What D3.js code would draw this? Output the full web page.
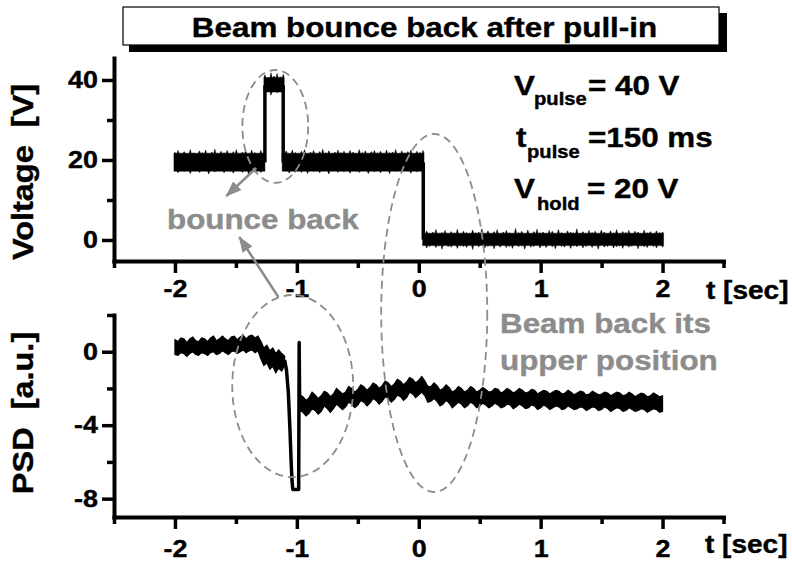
<!DOCTYPE html>
<html>
<head>
<meta charset="utf-8">
<script src="https://cdn.jsdelivr.net/npm/d3@7"></script>
<style>
  html, body { margin: 0; padding: 0; background: #fff; }
  svg { display: block; }
  text { font-family: "Liberation Sans", Arial, sans-serif; font-weight: bold; white-space: pre; }
</style>
</head>
<body>
<svg id="chart" width="792" height="563"></svg>
<script>
// ---------------- data ----------------
// Time axis ticks (s)
const timeMajorTicks = [-2, -1, 0, 1, 2];
const timeMinorTicks = [-2.5, -1.5, -0.5, 0.5, 1.5, 2.5];
// Voltage axis ticks (V)
const voltMajorTicks = [0, 20, 40];
const voltMinorTicks = [10, 30];
// PSD axis ticks (a.u.)
const psdMajorTicks = [-8, -4, 0];
const psdMinorTicks = [-6, -2, 2];

// Applied voltage. Each plateau: time span, solid core [low, high], and the
// noise peaks (low / high) of successive samples across the span.
const holdBeforeSpan = [-2.0, -1.27];
const holdCore = [17.2, 21.7];
const holdBeforeLo = [17.4,16.8,17.6,17.1,17.9,16.6,17.5,17.3,16.9,17.8,17.2,16.5,17.6,17.0,17.7,17.3,16.8,17.9,17.1,16.7,17.5,17.2,16.9,17.8,16.4,17.4,17.0,17.6,16.9,17.3];
const holdBeforeHi = [21.9,22.4,21.5,22.1,21.7,22.6,21.8,21.4,22.3,21.9,22.5,21.6,22.0,22.7,21.5,22.2,21.8,22.4,21.6,22.1,22.6,21.7,22.0,22.3,21.5,22.5,21.9,21.6,22.4,21.8];

const pulseSpan = [-1.262, -1.112];
const pulseCore = [37.0, 40.6];
const pulseLo = [36.6,37.3,36.2,37.0,36.8,37.4,36.5];
const pulseHi = [41.3,40.6,41.8,41.0,41.6,40.8,41.4];

const holdAfterSpan = [-1.112, 0.035];
const holdAfterLo = [17.2,17.8,16.7,17.5,17.0,17.9,16.9,17.4,16.6,17.7,17.1,17.5,16.8,17.3,17.9,16.5,17.6,17.2,16.9,17.8,17.0,17.4,16.7,17.6,17.1,16.9,17.7,17.3,16.6,17.5,17.0,17.8,16.8,17.4,17.2,16.6,17.7,17.1,17.5,16.9,17.3,17.8,16.7,17.4,17.0,17.6,17.2];
const holdAfterHi = [21.8,22.3,21.6,22.5,21.9,21.5,22.2,22.6,21.7,22.0,22.4,21.6,22.1,22.7,21.8,22.3,21.5,22.0,22.5,21.9,22.2,21.6,22.4,22.0,21.7,22.6,21.9,22.3,21.5,22.1,22.4,21.8,22.2,21.6,22.5,21.9,22.0,22.6,21.7,22.3,21.8,22.1,22.5,21.6,22.2,21.9,22.4];

const releasedSpan = [0.04, 2.0];
const releasedCore = [-1.4, 1.7];
const releasedLo = [-1.4,-2.0,-1.6,-1.2,-1.9,-1.5,-2.3,-1.3,-1.7,-1.8,-1.2,-2.1,-1.5,-1.6,-1.9,-1.3,-2.4,-1.4,-1.7,-1.2,-2.0,-1.6,-1.5,-2.2,-1.3,-1.8,-1.4,-1.9,-1.6,-2.1,-1.2,-1.7,-1.5,-2.3,-1.4,-1.8,-1.6,-1.3,-2.0,-1.5,-1.9,-1.2,-1.7,-2.2,-1.4,-1.6,-1.8,-1.3,-2.1,-1.5,-1.7,-1.4,-2.0,-1.6,-1.2,-1.9,-1.5,-2.3,-1.4,-1.8,-1.6,-1.3,-2.0,-1.7,-1.5,-2.1,-1.3,-1.8,-1.6,-1.4,-2.2,-1.5,-1.7,-1.9,-1.3,-1.6,-2.0,-1.4,-1.8];
const releasedHi = [1.7,2.3,1.5,2.0,2.6,1.6,1.9,2.4,1.4,2.1,1.8,2.7,1.6,2.2,1.9,1.5,2.5,1.8,2.0,2.8,1.6,2.3,1.7,2.1,2.6,1.5,2.0,2.4,1.8,1.6,2.9,1.9,2.2,1.7,2.5,1.6,2.1,2.7,1.8,2.0,1.5,2.4,2.2,1.7,2.6,1.9,1.6,2.3,2.0,1.8,2.8,1.7,2.1,1.5,2.4,1.9,2.2,1.6,2.5,2.0,1.7,2.3,1.8,2.6,1.6,2.1,1.9,2.4,1.5,2.2,2.0,1.7,2.5,1.8,2.1,1.6,2.3,1.9,2.0];

// Switching edges of the voltage: [time, from V, to V]
const voltEdges = [[-1.262, 19.4, 38.7], [-1.112, 38.7, 19.4], [0.037, 19.4, 0.1]];

// Position sensing detector: resting band, pull-in dip, recovering band
const restSpan = [-2.0, -1.10];
const restLo = [-0.15,-0.2,-0.05,-0.1,-0.25,-0.1,0.0,-0.15,-0.2,-0.05,-0.1,-0.2,-0.05,0.0,-0.15,-0.1,0.05,-0.05,-0.15,0.0,0.05,-0.1,0.0,0.1,-0.05,0.05,0.1,-0.05,0.05,
                -0.4,-0.75,-0.6,-0.95,-0.8,-1.15,-0.9,-1.05,-0.75];
const restHi = [0.65,0.55,0.75,0.7,0.5,0.7,0.8,0.6,0.55,0.75,0.7,0.55,0.75,0.85,0.6,0.7,0.85,0.7,0.6,0.8,0.85,0.65,0.8,0.9,0.7,0.85,0.9,0.75,0.85,
                0.55,0.2,0.35,0.05,0.2,-0.1,0.1,-0.1,-0.25];

const dipTrace = [[-1.100,-0.45],[-1.085,-1.0],[-1.070,-2.2],[-1.058,-4.0],[-1.048,-5.8],[-1.040,-7.0],[-1.033,-7.5],[-0.985,-7.5],[-0.981,0.5],[-0.977,-2.9]];

const recoverSpan = [-0.975, 2.0];
const recoverLo = [-3.2,-3.3,-3.5,-3.35,-3.1,-3.2,-3.4,-3.25,-2.95,-3.1, -3.3,-3.1,-2.85,-3.0,-3.15,-3.0,-2.75,-2.85,-3.05,-2.9,
                   -2.65,-2.75,-2.95,-2.8,-2.55,-2.65,-2.85,-2.7,-2.45,-2.55, -2.75,-2.6,-2.35,-2.45,-2.65,-2.5,-2.2,-2.3,-2.5,-2.35,
                   -2.2,-2.4,-2.75,-2.7,-2.55,-2.7,-2.95,-2.85,-2.65,-2.8, -3.05,-2.9,-2.75,-2.85,-3.05,-2.95,-2.75,-2.85,-3.05,-2.95,
                   -2.8,-2.9,-3.05,-2.95,-2.8,-2.9,-3.05,-3.0,-2.85,-2.9, -3.1,-3.0,-2.85,-2.95,-3.1,-3.05,-2.9,-2.95,-3.15,-3.05,
                   -2.9,-3.0,-3.15,-3.05,-2.95,-3.0,-3.15,-3.1,-2.95,-3.05, -3.15,-3.1,-3.0,-3.05,-3.2,-3.1,-3.0,-3.05,-3.2,-3.15,
                   -3.0,-3.1,-3.25,-3.15,-3.05,-3.1,-3.25,-3.2,-3.05,-3.15, -3.25,-3.2,-3.1,-3.15,-3.3,-3.2,-3.1,-3.15,-3.3,-3.25];
const recoverHi = [-2.35,-2.45,-2.65,-2.5,-2.2,-2.35,-2.55,-2.4,-2.15,-2.25, -2.45,-2.3,-2.0,-2.15,-2.3,-2.2,-1.9,-2.0,-2.2,-2.05,
                   -1.8,-1.9,-2.1,-1.95,-1.7,-1.8,-2.0,-1.85,-1.6,-1.7, -1.9,-1.75,-1.5,-1.6,-1.8,-1.65,-1.4,-1.5,-1.7,-1.55,
                   -1.35,-1.6,-1.9,-1.9,-1.7,-1.85,-2.1,-2.0,-1.8,-1.95, -2.2,-2.1,-1.9,-2.0,-2.2,-2.1,-1.9,-2.0,-2.2,-2.1,
                   -1.95,-2.05,-2.2,-2.15,-2.0,-2.05,-2.25,-2.15,-2.0,-2.1, -2.25,-2.15,-2.0,-2.1,-2.25,-2.2,-2.05,-2.1,-2.3,-2.2,
                   -2.1,-2.15,-2.3,-2.2,-2.1,-2.15,-2.3,-2.25,-2.1,-2.2, -2.35,-2.25,-2.15,-2.2,-2.35,-2.3,-2.15,-2.25,-2.35,-2.3,
                   -2.2,-2.25,-2.4,-2.3,-2.2,-2.25,-2.4,-2.35,-2.2,-2.3, -2.45,-2.35,-2.25,-2.3,-2.45,-2.4,-2.25,-2.35,-2.45,-2.4];

// ---------------- drawing ----------------
const svg = d3.select("#chart");
const GRAY = "#8c8c8c";
const WIDEN = 1.12;   // text is set slightly wide

const x = d3.scaleLinear().domain([-2.5, 2.5]).range([114, 723.5]);
const yV = d3.scaleLinear().domain([-5.25, 45.5]).range([261, 58]);
const yP = d3.scaleLinear().domain([-9, 2]).range([517, 315]);

// time of sample i of n, spread evenly over a span
const sampleTime = (span, i, n) => span[0] + (span[1] - span[0]) * i / (n - 1);

function band(span, lo, hi) {
  const pairs = d3.zip(lo, hi);
  return pairs.map((p, i) => ({ t: sampleTime(span, i, pairs.length), lo: p[0], hi: p[1] }));
}

// solid core with a thin needle for every noise peak
function needleBand(span, core, lo, hi, y) {
  const n = Math.min(lo.length, hi.length), w = 1.0;
  const top = [], bottom = [];
  for (let i = 0; i < n; i++) {
    const px = x(sampleTime(span, i, n));
    top.push([px - w, y(core[1])], [px, y(Math.max(hi[i], core[1]))], [px + w, y(core[1])]);
    bottom.push([px - w, y(core[0])], [px, y(Math.min(lo[i], core[0]))], [px + w, y(core[0])]);
  }
  return d3.line()(top.concat(bottom.reverse())) + "Z";
}

function widen(sel, k) {
  sel.each(function () {
    const w = this.getComputedTextLength();
    d3.select(this).attr("textLength", w * k).attr("lengthAdjust", "spacingAndGlyphs");
  });
  return sel;
}
function label(parent, px, py, size, str, color) {
  const t = parent.append("text").attr("x", px).attr("y", py).attr("font-size", size)
    .attr("fill", color || "#000").attr("stroke", color || "#000").attr("stroke-width", 0.4).text(str);
  return widen(t, WIDEN);
}

// title box with drop shadow
svg.append("rect").attr("x", 129).attr("y", 13).attr("width", 598).attr("height", 39).attr("fill", "#000");
svg.append("rect").attr("x", 123).attr("y", 7).attr("width", 596).attr("height", 38)
  .attr("fill", "#fff").attr("stroke", "#000").attr("stroke-width", 1.2);
label(svg, 424.5, 37, 28, "Beam bounce back after pull-in").attr("text-anchor", "middle");

function frame(y, major, minor, labelPad) {
  const g = svg.append("g");
  const x0 = x.range()[0];
  const yBase = y.range()[0];

  g.append("g").attr("transform", `translate(${x0},0)`)
    .call(d3.axisLeft(y).tickValues(major).tickSize(12).tickSizeOuter(0).tickPadding(4).tickFormat(d => String(d)));
  g.append("g").attr("transform", `translate(${x0},0)`)
    .call(d3.axisLeft(y).tickValues(minor.filter(v => v >= y.domain()[0] && v <= y.domain()[1])).tickSize(7).tickFormat(""))
    .call(s => s.select(".domain").remove());

  g.append("g").attr("transform", `translate(0,${yBase})`)
    .call(d3.axisBottom(x).tickValues(timeMajorTicks).tickSize(12).tickSizeOuter(0).tickPadding(labelPad).tickFormat(d => String(d)));
  g.append("g").attr("transform", `translate(0,${yBase})`)
    .call(d3.axisBottom(x).tickValues(timeMinorTicks).tickSize(7).tickFormat(""))
    .call(s => s.select(".domain").remove());

  g.selectAll(".domain").attr("stroke", "#000").attr("stroke-width", 4).attr("stroke-linecap", "square");
  g.selectAll(".tick line").attr("stroke", "#000").attr("stroke-width", 3.5);
  const tt = g.selectAll(".tick text").attr("fill", "#000").attr("font-size", 24)
    .attr("stroke", "#000").attr("stroke-width", 0.4)
    .attr("font-family", "Liberation Sans, Arial, sans-serif").attr("font-weight", "bold");
  widen(tt, WIDEN);
  return g;
}

frame(yV, voltMajorTicks, voltMinorTicks, 7);
frame(yP, psdMajorTicks, psdMinorTicks, 10.5);

// axis titles
label(svg, 0, 0, 29, "Voltage  [V]").attr("x", null).attr("y", null)
  .attr("transform", "translate(33,172) rotate(-90)").attr("text-anchor", "middle");
label(svg, 0, 0, 29, "PSD  [a.u.]").attr("x", null).attr("y", null)
  .attr("transform", "translate(33,413) rotate(-90)").attr("text-anchor", "middle");
label(svg, 706, 299, 25, "t [sec]");
label(svg, 705, 553, 25, "t [sec]");

// traces
const traces = svg.append("g");
[[holdBeforeSpan, holdCore, holdBeforeLo, holdBeforeHi], [pulseSpan, pulseCore, pulseLo, pulseHi],
 [holdAfterSpan, holdCore, holdAfterLo, holdAfterHi], [releasedSpan, releasedCore, releasedLo, releasedHi]]
  .forEach(([s, c, lo, hi]) => {
    traces.append("path").attr("d", needleBand(s, c, lo, hi, yV))
      .attr("fill", "#000").attr("stroke", "#000").attr("stroke-width", 0.5);
  });
traces.selectAll("line.edge").data(voltEdges).join("line").attr("class", "edge")
  .attr("x1", d => x(d[0])).attr("x2", d => x(d[0]))
  .attr("y1", d => yV(d[1])).attr("y2", d => yV(d[2]))
  .attr("stroke", "#000").attr("stroke-width", 3.5);

const bandArea = d3.area().x(d => x(d.t)).y0(d => yP(d.lo)).y1(d => yP(d.hi));
[[restSpan, restLo, restHi], [recoverSpan, recoverLo, recoverHi]].forEach(([s, lo, hi]) => {
  traces.append("path").attr("d", bandArea(band(s, lo, hi)))
    .attr("fill", "#000").attr("stroke", "#000").attr("stroke-width", 1.2);
});
traces.append("path").attr("d", d3.line().x(d => x(d[0])).y(d => yP(d[1]))(dipTrace))
  .attr("fill", "none").attr("stroke", "#000").attr("stroke-width", 3.5).attr("stroke-linejoin", "round");

// parameter notes
const notes = svg.append("g");
label(notes, 514, 95, 28, "V");
label(notes, 534, 105, 18, "pulse");
label(notes, 588, 95, 28, "= 40 V");
label(notes, 516, 147, 28, "t");
label(notes, 527, 158, 18, "pulse");
label(notes, 588, 147, 28, "=150 ms");
label(notes, 514, 198, 28, "V");
label(notes, 537, 210, 18, "hold");
label(notes, 587, 198, 28, "= 20 V");

// gray annotations
const ann = svg.append("g");
label(ann, 167, 229, 28, "bounce back", GRAY);
label(ann, 500, 333, 28, "Beam back its", GRAY);
label(ann, 500, 370, 28, "upper position", GRAY);

// dashed ellipses in data coordinates: [t, value, half-width s, half-height]
const pulseRing = [-1.177, 28.4, 0.27, 14.1];
const releaseRing = [0.127, -18.25, 0.435, 44.75];
const dipRing = [-1.034, -1.87, 0.496, 4.96];
function ring(r, y) {
  ann.append("ellipse")
    .attr("cx", x(r[0])).attr("cy", y(r[1]))
    .attr("rx", x(r[0] + r[2]) - x(r[0])).attr("ry", Math.abs(y(r[1] + r[3]) - y(r[1])))
    .attr("fill", "none").attr("stroke", GRAY).attr("stroke-width", 1.8).attr("stroke-dasharray", "8,5");
}
ring(pulseRing, yV);
ring(releaseRing, yV);
ring(dipRing, yP);

// arrows pointing at the "bounce back" note
svg.append("defs").append("marker").attr("id", "head")
  .attr("viewBox", "0 0 16 12").attr("refX", 15).attr("refY", 6)
  .attr("markerWidth", 16).attr("markerHeight", 12).attr("markerUnits", "userSpaceOnUse")
  .attr("orient", "auto")
  .append("path").attr("d", "M0,0 L16,6 L0,12 Z").attr("fill", GRAY);
const arrows = [[[-1.333, 18.0], [-1.579, 11.0]], [[-1.152, -14.25], [-1.472, 0.75]]];
ann.selectAll("line.arrow").data(arrows).join("line").attr("class", "arrow")
  .attr("x1", d => x(d[0][0])).attr("y1", d => yV(d[0][1]))
  .attr("x2", d => x(d[1][0])).attr("y2", d => yV(d[1][1]))
  .attr("stroke", GRAY).attr("stroke-width", 2.5).attr("marker-end", "url(#head)");
</script>
</body>
</html>
